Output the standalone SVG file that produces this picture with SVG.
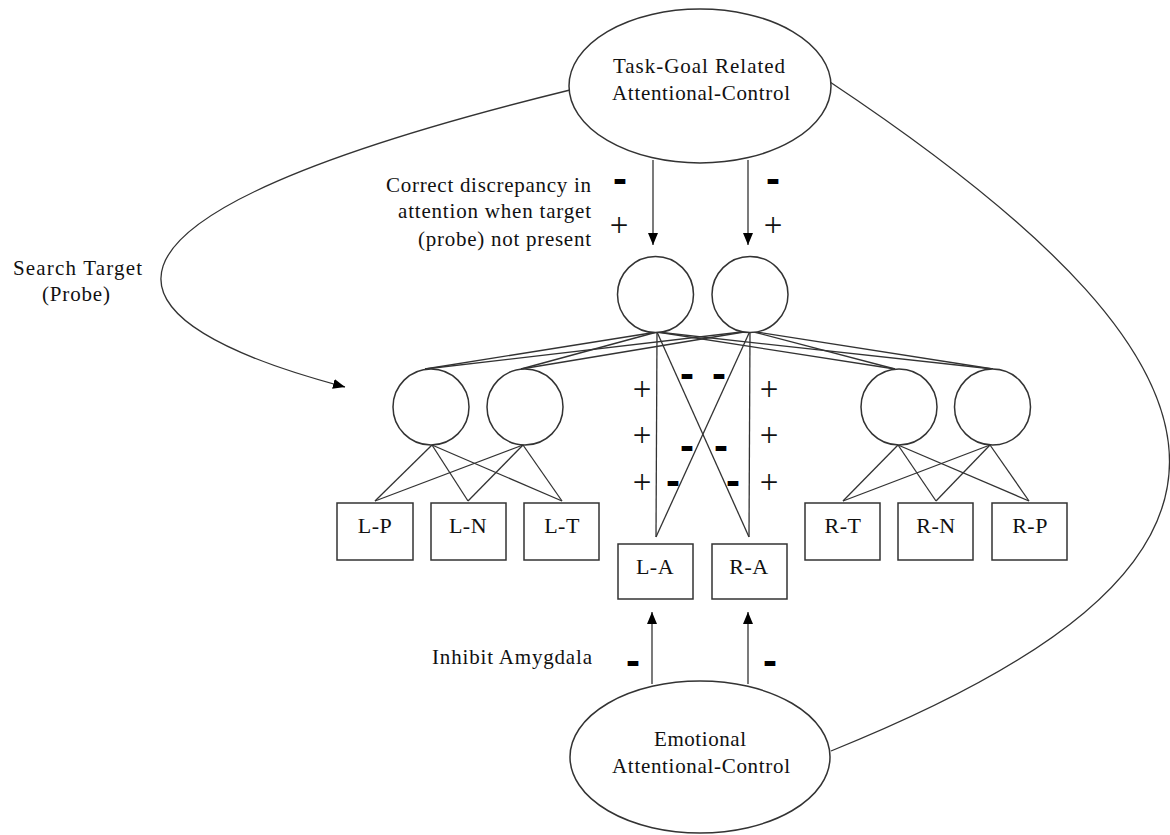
<svg xmlns="http://www.w3.org/2000/svg" width="1170" height="835" viewBox="0 0 1170 835">
  <style>
    .shape { fill: #fff; stroke: #333; stroke-width: 1.5; }
    .link { fill: none; stroke: #333; stroke-width: 1.3; }
    .lbl { font-family: "Liberation Serif", "Times New Roman", serif; font-size: 21px; fill: #111; }
    .box { font-family: "Liberation Serif", "Times New Roman", serif; font-size: 22px; fill: #111; text-anchor: middle; letter-spacing: 0.5px; }
    .plus { font-family: "Liberation Serif", "Times New Roman", serif; font-size: 33px; fill: #111; text-anchor: middle; }
    .minus { font-family: "Liberation Sans", Arial, sans-serif; font-weight: bold; font-size: 42px; fill: #000; text-anchor: middle; }
  </style>
  <defs>
    <marker id="arrow" viewBox="0 0 12 10" refX="12" refY="5" markerWidth="12" markerHeight="10" markerUnits="userSpaceOnUse" orient="auto">
      <path d="M0,0 L12,5 L0,10 z" fill="#000"/>
    </marker>
  </defs>

  <rect width="1170" height="835" fill="#fff"/>

  <!-- connectors -->
  <g id="connectors">
    <!-- search target loop -->
    <path class="link" d="M570,90 C20,225 110,325 345,387" marker-end="url(#arrow)"/>
    <!-- task-goal to emotional control loop -->
    <path class="link" d="M830,82 C1285,385 1280,570 831,751"/>
    <!-- top-down attention arrows -->
    <line class="link" x1="653" y1="160" x2="653" y2="245" marker-end="url(#arrow)"/>
    <line class="link" x1="748" y1="160" x2="748" y2="245" marker-end="url(#arrow)"/>
    <!-- amygdala inhibition arrows -->
    <line class="link" x1="652" y1="684" x2="652" y2="612" marker-end="url(#arrow)"/>
    <line class="link" x1="748" y1="684" x2="748" y2="612" marker-end="url(#arrow)"/>
    <!-- upper units to middle units -->
    <line class="link" x1="657" y1="332" x2="425" y2="369"/>
    <line class="link" x1="750" y1="331" x2="425" y2="369"/>
    <line class="link" x1="657" y1="332" x2="521" y2="369"/>
    <line class="link" x1="750" y1="331" x2="521" y2="369"/>
    <line class="link" x1="657" y1="332" x2="895" y2="369"/>
    <line class="link" x1="750" y1="331" x2="895" y2="369"/>
    <line class="link" x1="657" y1="332" x2="993" y2="369"/>
    <line class="link" x1="750" y1="331" x2="993" y2="369"/>
    <!-- upper units to amygdala -->
    <line class="link" x1="657" y1="332" x2="656" y2="537"/>
    <line class="link" x1="657" y1="332" x2="749" y2="537"/>
    <line class="link" x1="750" y1="331" x2="749" y2="537"/>
    <line class="link" x1="750" y1="331" x2="656" y2="537"/>
    <!-- left units to left boxes -->
    <line class="link" x1="432" y1="445" x2="375" y2="501"/>
    <line class="link" x1="432" y1="445" x2="468" y2="501"/>
    <line class="link" x1="432" y1="445" x2="562" y2="501"/>
    <line class="link" x1="523" y1="445" x2="375" y2="501"/>
    <line class="link" x1="523" y1="445" x2="468" y2="501"/>
    <line class="link" x1="523" y1="445" x2="562" y2="501"/>
    <!-- right units to right boxes -->
    <line class="link" x1="898" y1="445" x2="843" y2="501"/>
    <line class="link" x1="898" y1="445" x2="936" y2="501"/>
    <line class="link" x1="898" y1="445" x2="1029" y2="501"/>
    <line class="link" x1="990" y1="445" x2="843" y2="501"/>
    <line class="link" x1="990" y1="445" x2="936" y2="501"/>
    <line class="link" x1="990" y1="445" x2="1029" y2="501"/>
  </g>

  <!-- control ellipses -->
  <g id="task-goal">
    <ellipse class="shape" cx="700" cy="86" rx="131" ry="77"/>
    <text class="lbl" x="699" y="73" text-anchor="middle" textLength="172" lengthAdjust="spacing">Task-Goal Related</text>
    <text class="lbl" x="701" y="100" text-anchor="middle" textLength="178" lengthAdjust="spacing">Attentional-Control</text>
  </g>
  <g id="emotional">
    <ellipse class="shape" cx="700" cy="757" rx="130" ry="76"/>
    <text class="lbl" x="700" y="746" text-anchor="middle" textLength="92" lengthAdjust="spacing">Emotional</text>
    <text class="lbl" x="701" y="773" text-anchor="middle" textLength="178" lengthAdjust="spacing">Attentional-Control</text>
  </g>

  <!-- upper units -->
  <g id="top-left"><circle class="shape" cx="655.5" cy="294.5" r="38"/></g>
  <g id="top-right"><circle class="shape" cx="750" cy="294.5" r="38"/></g>

  <!-- middle units -->
  <g id="mid-l1"><circle class="shape" cx="431" cy="407" r="38"/></g>
  <g id="mid-l2"><circle class="shape" cx="525" cy="407" r="38"/></g>
  <g id="mid-r1"><circle class="shape" cx="899" cy="407" r="38"/></g>
  <g id="mid-r2"><circle class="shape" cx="992.5" cy="407" r="38"/></g>

  <!-- input boxes -->
  <g id="box-LP"><rect class="shape" x="337" y="503" width="76" height="57"/><text class="box" x="375" y="533">L-P</text></g>
  <g id="box-LN"><rect class="shape" x="431" y="503" width="75" height="57"/><text class="box" x="468" y="533">L-N</text></g>
  <g id="box-LT"><rect class="shape" x="524" y="503" width="75" height="57"/><text class="box" x="562" y="533">L-T</text></g>
  <g id="box-LA"><rect class="shape" x="618" y="544" width="75" height="55"/><text class="box" x="655" y="574">L-A</text></g>
  <g id="box-RA"><rect class="shape" x="712" y="544" width="75" height="55"/><text class="box" x="749" y="574">R-A</text></g>
  <g id="box-RT"><rect class="shape" x="805" y="503" width="75" height="57"/><text class="box" x="843" y="533">R-T</text></g>
  <g id="box-RN"><rect class="shape" x="898" y="503" width="75" height="57"/><text class="box" x="936" y="533">R-N</text></g>
  <g id="box-RP"><rect class="shape" x="992" y="503" width="75" height="57"/><text class="box" x="1030" y="533">R-P</text></g>

  <!-- annotations -->
  <g id="labels">
    <text class="lbl" x="591" y="192" text-anchor="end" textLength="205" lengthAdjust="spacing">Correct discrepancy in</text>
    <text class="lbl" x="591" y="218" text-anchor="end" textLength="193" lengthAdjust="spacing">attention when target</text>
    <text class="lbl" x="591" y="246" text-anchor="end" textLength="173" lengthAdjust="spacing">(probe) not present</text>
    <text class="lbl" x="13" y="275" textLength="129" lengthAdjust="spacing">Search Target</text>
    <text class="lbl" x="76" y="301" text-anchor="middle" textLength="68" lengthAdjust="spacing">(Probe)</text>
    <text class="lbl" x="432" y="664" textLength="160" lengthAdjust="spacing">Inhibit Amygdala</text>
  </g>

  <!-- signs -->
  <g id="signs">
    <text class="minus" x="620" y="193">-</text>
    <text class="minus" x="773" y="193">-</text>
    <text class="plus" x="619" y="236">+</text>
    <text class="plus" x="773" y="236">+</text>

    <text class="plus" x="642" y="400">+</text>
    <text class="plus" x="642" y="446">+</text>
    <text class="plus" x="642" y="493">+</text>
    <text class="plus" x="769" y="400">+</text>
    <text class="plus" x="769" y="446">+</text>
    <text class="plus" x="769" y="493">+</text>

    <text class="minus" x="687" y="388">-</text>
    <text class="minus" x="719" y="388">-</text>
    <text class="minus" x="687" y="460">-</text>
    <text class="minus" x="721" y="460">-</text>
    <text class="minus" x="673" y="495">-</text>
    <text class="minus" x="733" y="495">-</text>

    <text class="minus" x="633" y="675">-</text>
    <text class="minus" x="770" y="675">-</text>
  </g>
</svg>
